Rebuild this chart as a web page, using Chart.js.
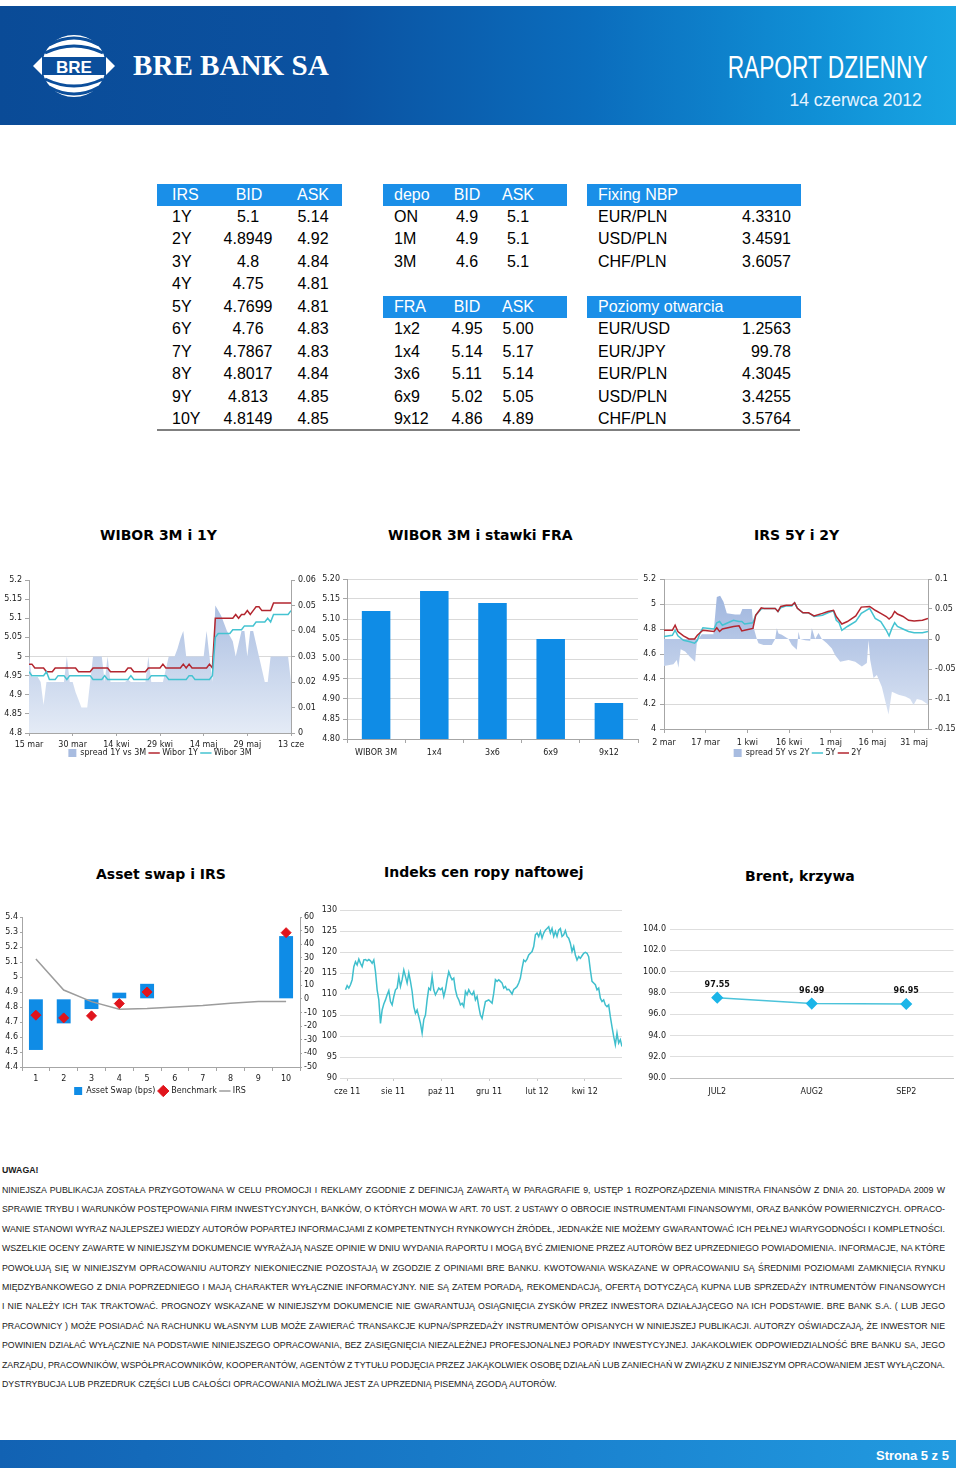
<!DOCTYPE html>
<html><head><meta charset="utf-8">
<script src="https://cdn.jsdelivr.net/npm/chart.js@4.4.1/dist/chart.umd.min.js"></script>
<style>
html,body{margin:0;padding:0;background:#fff;}
#page{position:relative;width:960px;height:1470px;overflow:hidden;font-family:'Liberation Sans',Arial,sans-serif;}
.t{position:absolute;white-space:nowrap;line-height:20px;height:20px;font-size:16px;color:#000;}
.hb{position:absolute;background:#1a8fe8;height:22px;}
.title{position:absolute;font-family:'DejaVu Sans',Verdana,sans-serif;font-weight:bold;font-size:14px;color:#000;white-space:nowrap;line-height:18px;}
canvas{position:absolute;}
.dl{position:absolute;left:2px;white-space:nowrap;font-family:'Liberation Sans',Arial,sans-serif;font-size:8px;color:#1a1a1a;line-height:12px;}
</style></head>
<body><div id="page">
<div style="position:absolute;left:0;top:6px;width:956px;height:119px;background:linear-gradient(to right,#0a4b97 0%,#0b52a1 35%,#0b6dbd 62%,#108fd5 85%,#18a5e3 100%);"></div>
<svg style="position:absolute;left:33px;top:33px" width="82" height="66" viewBox="0 0 82 66">
 <ellipse cx="41" cy="33" rx="32" ry="31" fill="#fff"/>
 <path d="M16 12 Q41 -2 66 12" stroke="#0b4e9b" stroke-width="3" fill="none"/>
 <path d="M12 20 Q41 6 70 20" stroke="#0b4e9b" stroke-width="3" fill="none"/>
 <path d="M12 46 Q41 60 70 46" stroke="#0b4e9b" stroke-width="3" fill="none"/>
 <path d="M16 54 Q41 68 66 54" stroke="#0b4e9b" stroke-width="3" fill="none"/>
 <rect x="9" y="24" width="64" height="18" fill="#0b4e9b"/>
 <polygon points="0,33 9,24 9,42" fill="#fff"/>
 <polygon points="82,33 73,24 73,42" fill="#fff"/>
 <text x="41" y="39.5" text-anchor="middle" font-family="Liberation Sans" font-weight="bold" font-size="17" fill="#fff">BRE</text>
</svg>
<div style="position:absolute;left:133px;top:47px;font-family:'Liberation Serif',serif;font-weight:bold;font-size:30px;color:#fff;white-space:nowrap;line-height:36px;transform:scaleX(0.97);transform-origin:left;">BRE BANK SA</div>
<div style="position:absolute;right:32px;top:50px;font-family:'Liberation Sans',sans-serif;font-size:32px;color:#fff;white-space:nowrap;line-height:34px;transform:scaleX(0.71);transform-origin:right;">RAPORT DZIENNY</div>
<div style="position:absolute;right:38px;top:89px;font-family:'Liberation Sans',sans-serif;font-size:19px;color:#e8f4ff;white-space:nowrap;line-height:22px;transform:scaleX(0.92);transform-origin:right;">14 czerwca 2012</div>

<div class="title" style="left:100px;top:526px;">WIBOR 3M i 1Y</div>
<div class="title" style="left:388px;top:526px;">WIBOR 3M i stawki FRA</div>
<div class="title" style="left:754px;top:526px;">IRS 5Y i 2Y</div>
<div class="title" style="left:96px;top:865px;">Asset swap i IRS</div>
<div class="title" style="left:384px;top:863px;">Indeks cen ropy naftowej</div>
<div class="title" style="left:745px;top:867px;">Brent, krzywa</div>

<div style="position:absolute;left:157px;top:429px;width:643px;height:2px;background:#7f7f7f;"></div>

<div style="position:absolute;left:0;top:1440px;width:956px;height:28px;background:linear-gradient(to right,#1262b3,#1a82cf 60%,#229be0);"></div>
<div style="position:absolute;left:876px;top:1448px;font-family:'Liberation Sans',sans-serif;font-weight:bold;font-size:13px;color:#fff;white-space:nowrap;line-height:16px;">Strona 5 z 5</div>
</div>
<script>
// ---------- table data ----------
const irsTenor=['1Y','2Y','3Y','4Y','5Y','6Y','7Y','8Y','9Y','10Y'];
const irsBid=['5.1','4.8949','4.8','4.75','4.7699','4.76','4.7867','4.8017','4.813','4.8149'];
const irsAsk=['5.14','4.92','4.84','4.81','4.81','4.83','4.83','4.84','4.85','4.85'];
const depoTenor=['ON','1M','3M'];
const depoBid=['4.9','4.9','4.6'];
const depoAsk=['5.1','5.1','5.1'];
const fraTenor=['1x2','1x4','3x6','6x9','9x12'];
const fraBid=['4.95','5.14','5.11','5.02','4.86'];
const fraAsk=['5.00','5.17','5.14','5.05','4.89'];
const fixPair=['EUR/PLN','USD/PLN','CHF/PLN'];
const fixVal=['4.3310','3.4591','3.6057'];
const openPair=['EUR/USD','EUR/JPY','EUR/PLN','USD/PLN','CHF/PLN'];
const openVal=['1.2563','99.78','4.3045','3.4255','3.5764'];

// ---------- chart data ----------
// WIBOR 3M i 1Y (daily, 15 mar .. 13 cze)
const w1Ticks=['15 mar','30 mar','14 kwi','29 kwi','14 maj','29 maj','13 cze'];
const w1TickDay=[0,15,30,45,60,75,90];
const w1Y=[4.98,4.98,4.97,4.97,4.97,4.97,4.96,4.96,4.96,4.97,4.97,4.97,4.97,4.97,4.97,4.97,4.97,4.96,4.96,4.96,4.96,4.96,4.97,4.97,4.97,4.97,4.97,4.97,4.96,4.96,4.96,4.96,4.96,4.96,4.97,4.97,4.96,4.96,4.96,4.96,4.96,4.97,4.97,4.97,4.97,4.97,4.98,4.97,4.97,4.97,4.97,4.97,4.97,4.98,4.97,4.98,4.97,4.97,4.97,4.97,4.97,4.97,4.98,4.97,5.10,5.10,5.10,5.10,5.10,5.10,5.10,5.11,5.10,5.11,5.11,5.12,5.11,5.12,5.13,5.13,5.12,5.12,5.12,5.12,5.14,5.14,5.14,5.14,5.14,5.14,5.14];
const w3M=[4.96,4.95,4.95,4.95,4.95,4.95,4.96,4.94,4.94,4.94,4.95,4.95,4.95,4.94,4.95,4.95,4.95,4.95,4.95,4.95,4.95,4.95,4.94,4.94,4.94,4.94,4.95,4.94,4.94,4.94,4.94,4.94,4.94,4.94,4.94,4.95,4.94,4.94,4.94,4.94,4.94,4.94,4.95,4.95,4.95,4.95,4.95,4.95,4.94,4.94,4.94,4.94,4.94,4.94,4.94,4.95,4.95,4.94,4.94,4.94,4.94,4.94,4.94,4.95,5.05,5.06,5.06,5.06,5.06,5.06,5.07,5.07,5.07,5.07,5.08,5.08,5.08,5.08,5.09,5.09,5.09,5.09,5.10,5.09,5.11,5.11,5.11,5.11,5.11,5.11,5.12];
const w1Spread=[0.03,0.022,0.022,0.022,0.02,0.011,0.02,0.02,0.02,0.02,0.02,0.02,0.02,0.03,0.02,0.02,0.016,0.013,0.01,0.01,0.01,0.02,0.03,0.03,0.03,0.03,0.02,0.03,0.02,0.02,0.02,0.02,0.02,0.02,0.021,0.02,0.02,0.02,0.02,0.02,0.02,0.03,0.02,0.02,0.02,0.02,0.02,0.025,0.03,0.03,0.03,0.033,0.037,0.04,0.03,0.03,0.03,0.03,0.03,0.03,0.03,0.04,0.03,0.02,0.05,0.048,0.046,0.043,0.04,0.038,0.036,0.03,0.035,0.04,0.04,0.03,0.04,0.04,0.035,0.03,0.025,0.02,0.02,0.03,0.03,0.03,0.03,0.03,0.03,0.03,0.02];

// WIBOR 3M i stawki FRA
const fraCats=['WIBOR 3M','1x4','3x6','6x9','9x12'];
const fraVals=[5.12,5.17,5.14,5.05,4.89];

// IRS 5Y i 2Y (days from 2 mar)
const irsTicks=['2 mar','17 mar','1 kwi','16 kwi','1 maj','16 maj','31 maj'];
const irsTickDay=[0,15,30,45,60,75,90];
const irsDay=[0,3,4,5,7,9,11,12,13,14,18,19,20,21,23,25,27,28,29,32,33,35,36,40,41,42,44,46,47,48,50,52,54,57,59,61,62,63,64,66,69,71,74,75,76,78,80,81,82,83,84,86,88,90,93,95];
const irs5Y=[4.74,4.75,4.79,4.745,4.71,4.70,4.686,4.71,4.77,4.81,4.80,4.85,4.86,4.83,4.85,4.87,4.86,4.86,4.84,4.85,4.91,4.96,4.965,4.965,4.94,4.97,4.985,4.985,5.01,4.965,4.93,4.93,4.90,4.91,4.93,4.945,4.87,4.85,4.79,4.82,4.86,4.925,4.965,4.925,4.885,4.86,4.79,4.745,4.805,4.85,4.82,4.80,4.78,4.77,4.77,4.78];
const irs2Y=[4.79,4.79,4.83,4.78,4.745,4.72,4.72,4.75,4.77,4.79,4.78,4.81,4.78,4.80,4.81,4.82,4.825,4.785,4.79,4.805,4.91,4.97,4.965,4.965,4.94,4.98,4.99,4.99,5.01,4.965,4.93,4.93,4.905,4.925,4.94,4.95,4.90,4.87,4.84,4.86,4.905,4.975,4.98,4.965,4.95,4.925,4.90,4.88,4.90,4.94,4.92,4.90,4.87,4.865,4.87,4.885];
const sprDay=[0,3.4,4.6,5.2,6,7.6,9.4,11.2,11.8,12.4,13.6,17.8,19,20.2,21.4,22.6,25.6,27.4,28.2,31.6,32.2,33.4,34,35.8,38.8,40,40.6,41.2,42.4,44.8,46,47.8,48.4,49,50.8,52.6,53.2,54.4,55.6,56.8,58.6,60.4,61.6,63.4,66.4,68.8,71.2,73,73.6,74.2,75.4,76.6,78.4,80.8,82,84.4,86.8,88.6,89.8,91,92.8,94.6,95.2];
const sprVal=[-0.045,-0.042,-0.035,-0.048,-0.017,-0.021,-0.03,-0.038,-0.007,0,0.008,0.008,0.07,0.072,0.062,0.043,0.041,0.041,0.05,0.05,0.02,0,-0.007,-0.01,-0.01,0,0.018,0.009,0.007,0,-0.01,-0.018,0.012,0,-0.002,-0.003,0.018,0,0.01,0,-0.007,-0.016,-0.027,-0.038,-0.035,-0.038,-0.046,-0.04,-0.002,-0.035,-0.065,-0.06,-0.08,-0.126,-0.088,-0.093,-0.096,-0.1,-0.11,-0.1,-0.102,-0.108,-0.11];

// Asset swap i IRS
const asCats=['1','2','3','4','5','6','7','8','9','10'];
const asSwap=[-37.5,-18,-7.5,4.5,11,null,null,null,null,46];
const asBench=[-12,-14,-12.5,-3.5,5,null,null,null,null,48.5];
const asIRS=[5.12,4.913,4.836,4.785,4.79,4.80,4.81,4.825,4.836,4.836];

// Indeks cen ropy naftowej
const oilTicks=['cze 11','sie 11','paź 11','gru 11','lut 12','kwi 12'];
const oilTickPos=[1,28.6,57.6,86.2,115,143.6];
const oil=[111,112,111.4,112.2,113.4,116.5,117.7,116.9,118.3,117.3,116.5,118.1,118.2,117.9,118.2,117.9,117.3,118.1,115.3,111,108.6,103,106.2,107.6,108.6,109.8,110.8,108.2,107.4,109.4,111,111.4,114.2,111.8,113.4,115.7,114.2,112.6,115,113,110.6,107,105.4,106.2,104.6,103,100.7,103.9,105,108.6,111.4,111,114.2,111,109.8,110.6,111.4,111,111.4,109.4,111,113.4,115.3,114.2,113.4,113.8,111,109.4,108.6,107.4,107.8,107,110.6,109.8,111,110.2,109.8,110.6,108.6,109.4,107,105,104.2,106.2,108.2,108.4,108.6,108.2,107.8,110.2,113.4,113,113.4,113,112.6,111.4,111.8,111,111.1,110.6,110,111.1,111.4,111.8,112.6,113.8,116.1,118.1,117.7,118.3,119.3,119.7,120.1,121.3,124.1,124.5,123.7,124.9,123.3,124.5,125.2,125.6,126,124.5,125.6,123.7,124.9,123.7,125.2,125.6,123.7,124.1,125.1,123.7,123.3,122.1,120.1,121.3,119.3,118.1,118.9,118.5,119.1,119.7,119.9,119.7,118.9,115.7,113,112.6,112.2,111,111.4,109,108.2,108.6,107.4,107,107.4,104.6,102.2,99.9,97.9,100.7,98.3,99.1,97.5];

// Brent, krzywa
const brentCats=['JUL2','AUG2','SEP2'];
const brentVals=[97.55,96.99,96.95];

// disclaimer
const discLines=[
'NINIEJSZA PUBLIKACJA ZOSTAŁA PRZYGOTOWANA W CELU PROMOCJI I REKLAMY ZGODNIE Z DEFINICJĄ ZAWARTĄ W PARAGRAFIE 9, USTĘP 1 ROZPORZĄDZENIA MINISTRA FINANSÓW Z DNIA 20. LISTOPADA 2009 W',
'SPRAWIE TRYBU I WARUNKÓW POSTĘPOWANIA FIRM INWESTYCYJNYCH, BANKÓW, O KTÓRYCH MOWA W ART. 70 UST. 2 USTAWY O OBROCIE INSTRUMENTAMI FINANSOWYMI, ORAZ BANKÓW POWIERNICZYCH. OPRACO-',
'WANIE STANOWI WYRAZ NAJLEPSZEJ WIEDZY AUTORÓW POPARTEJ INFORMACJAMI Z KOMPETENTNYCH RYNKOWYCH ŹRÓDEŁ, JEDNAKŻE NIE MOŻEMY GWARANTOWAĆ ICH PEŁNEJ WIARYGODNOŚCI I KOMPLETNOŚCI.',
'WSZELKIE OCENY ZAWARTE W NINIEJSZYM DOKUMENCIE WYRAŻAJĄ NASZE OPINIE W DNIU WYDANIA RAPORTU I MOGĄ BYĆ ZMIENIONE PRZEZ AUTORÓW BEZ UPRZEDNIEGO POWIADOMIENIA. INFORMACJE, NA KTÓRE',
'POWOŁUJĄ SIĘ W NINIEJSZYM OPRACOWANIU AUTORZY NIEKONIECZNIE POZOSTAJĄ W ZGODZIE Z OPINIAMI BRE BANKU. KWOTOWANIA WSKAZANE W OPRACOWANIU SĄ ŚREDNIMI POZIOMAMI ZAMKNIĘCIA RYNKU',
'MIĘDZYBANKOWEGO Z DNIA POPRZEDNIEGO I MAJĄ CHARAKTER WYŁĄCZNIE INFORMACYJNY. NIE SĄ ZATEM PORADĄ, REKOMENDACJĄ, OFERTĄ DOTYCZĄCĄ KUPNA LUB SPRZEDAŻY INTRUMENTÓW FINANSOWYCH',
'I NIE NALEŻY ICH TAK TRAKTOWAĆ. PROGNOZY WSKAZANE W NINIEJSZYM DOKUMENCIE NIE GWARANTUJĄ OSIĄGNIĘCIA ZYSKÓW PRZEZ INWESTORA DZIAŁAJĄCEGO NA ICH PODSTAWIE. BRE BANK S.A. ( LUB JEGO',
'PRACOWNICY ) MOŻE POSIADAĆ NA RACHUNKU WŁASNYM LUB MOŻE ZAWIERAĆ TRANSAKCJE KUPNA/SPRZEDAŻY INSTRUMENTÓW OPISANYCH W NINIEJSZEJ PUBLIKACJI. AUTORZY OŚWIADCZAJĄ, ŻE INWESTOR NIE',
'POWINIEN DZIAŁAĆ WYŁĄCZNIE NA PODSTAWIE NINIEJSZEGO OPRACOWANIA, BEZ ZASIĘGNIĘCIA NIEZALEŻNEJ PROFESJONALNEJ PORADY INWESTYCYJNEJ. JAKAKOLWIEK ODPOWIEDZIALNOŚĆ BRE BANKU SA, JEGO',
'ZARZĄDU, PRACOWNIKÓW, WSPÓŁPRACOWNIKÓW, KOOPERANTÓW, AGENTÓW Z TYTUŁU PODJĘCIA PRZEZ JAKĄKOLWIEK OSOBĘ DZIAŁAŃ LUB ZANIECHAŃ W ZWIĄZKU Z NINIEJSZYM OPRACOWANIEM JEST WYŁĄCZONA.',
'DYSTRYBUCJA LUB PRZEDRUK CZĘŚCI LUB CAŁOŚCI OPRACOWANIA MOŻLIWA JEST ZA UPRZEDNIĄ PISEMNĄ ZGODĄ AUTORÓW.'
];

// ---------- page build ----------
const page=document.getElementById('page');
function txt(x,y,s,align,color){
  const d=document.createElement('div');d.className='t';d.textContent=s;
  d.style.top=(y-10)+'px';d.style.left=x+'px';
  if(align==='c')d.style.transform='translateX(-50%)';
  if(align==='r')d.style.transform='translateX(-100%)';
  if(color)d.style.color=color;
  page.appendChild(d);
}
function bar(x1,x2,yc){const d=document.createElement('div');d.className='hb';d.style.left=x1+'px';d.style.width=(x2-x1)+'px';d.style.top=(yc-11)+'px';page.appendChild(d);}
const rowY=i=>217+i*22.45;
const hY=195;
bar(157,342,hY);txt(172,hY,'IRS','l','#fff');txt(249,hY,'BID','c','#fff');txt(313,hY,'ASK','c','#fff');
irsTenor.forEach((s,i)=>{txt(172,rowY(i),s);txt(248,rowY(i),irsBid[i],'c');txt(313,rowY(i),irsAsk[i],'c');});
bar(383,567,hY);txt(394,hY,'depo','l','#fff');txt(467,hY,'BID','c','#fff');txt(518,hY,'ASK','c','#fff');
depoTenor.forEach((s,i)=>{txt(394,rowY(i),s);txt(467,rowY(i),depoBid[i],'c');txt(518,rowY(i),depoAsk[i],'c');});
bar(383,567,rowY(4));txt(394,rowY(4),'FRA','l','#fff');txt(467,rowY(4),'BID','c','#fff');txt(518,rowY(4),'ASK','c','#fff');
fraTenor.forEach((s,i)=>{txt(394,rowY(i+5),s);txt(467,rowY(i+5),fraBid[i],'c');txt(518,rowY(i+5),fraAsk[i],'c');});
bar(587,801,hY);txt(598,hY,'Fixing NBP','l','#fff');
fixPair.forEach((s,i)=>{txt(598,rowY(i),s);txt(791,rowY(i),fixVal[i],'r');});
bar(587,801,rowY(4));txt(598,rowY(4),'Poziomy otwarcia','l','#fff');
openPair.forEach((s,i)=>{txt(598,rowY(i+5),s);txt(791,rowY(i+5),openVal[i],'r');});

// disclaimer
(function(){
  const u=document.createElement('div');u.className='dl';u.style.top='1164px';u.style.fontWeight='bold';u.textContent='UWAGA!';page.appendChild(u);
  const els=discLines.map((s,i)=>{const d=document.createElement('div');d.className='dl';d.style.top=(1184+i*19.4)+'px';d.textContent=s;page.appendChild(d);return d;});
  const last=els[els.length-1];
  const fs=8*555/last.getBoundingClientRect().width;
  els.forEach(e=>e.style.fontSize=fs+'px');u.style.fontSize=fs+'px';
  els.forEach((e,i)=>{ if(i===els.length-1)return; const w=e.getBoundingClientRect().width; const n=(discLines[i].match(/ /g)||[]).length; e.style.wordSpacing=((943-w)/n)+'px';});
})();

// ---------- charts ----------
Chart.defaults.font.family="'DejaVu Sans', Verdana, sans-serif";
Chart.defaults.font.size=8;
Chart.defaults.color='#1a1a1a';
Chart.defaults.animation=false;
Chart.defaults.responsive=false;
Chart.defaults.devicePixelRatio=1;
Chart.defaults.events=[];
Chart.defaults.plugins.tooltip.enabled=false;
Chart.defaults.plugins.legend.display=false;
const AX='#a6a6a6', GR='#d9d9d9', RED='#b3262f', CYAN='#44c3d1', BLUE='#0f8ce6';
function mk(l,t,w,h){const c=document.createElement('canvas');c.width=w;c.height=h;c.style.left=l+'px';c.style.top=t+'px';c.style.width=w+'px';c.style.height=h+'px';page.appendChild(c);return c;}
const W=w=>s=>{s.width=w;}; const H=h=>s=>{s.height=h;};
function areaFill(top,bot){return ctx=>{const ch=ctx.chart,a=ch.chartArea;if(!a||ctx.type!=='dataset')return '#a8bce0';const g=ch.ctx.createLinearGradient(0,a.top,0,a.bottom);g.addColorStop(0,top);g.addColorStop(1,bot);return g;};}
const fmt=v=>String(+(+v).toFixed(2));
const legendOpts={display:true,position:'bottom',maxHeight:20,labels:{usePointStyle:true,font:{size:8},padding:4,color:'#1a1a1a',sort:(a,b)=>a.datasetIndex-b.datasetIndex}};
const legShift=off=>({id:'legShift',afterLayout(ch){const l=ch.legend;if(!l)return;const h=l.bottom-l.top;const t=ch.chartArea.bottom+off;l.top=t;l.bottom=t+h;}});
const setTicks=arr=>s=>{s.ticks=arr.map(v=>({value:v}));};

// 1: WIBOR 3M i 1Y
new Chart(mk(0,568,320,203),{type:'line',
 data:{datasets:[
  {label:'spread 1Y vs 3M',data:w1Spread.map((v,i)=>({x:i,y:v})),yAxisID:'y1',fill:'start',backgroundColor:areaFill('#a1b7de','#e4ebf6'),borderWidth:0,borderColor:'rgba(0,0,0,0)',pointRadius:0,pointStyle:'rect',order:2},
  {label:'Wibor 1Y',data:w1Y.map((v,i)=>({x:i,y:v})),yAxisID:'y',borderColor:RED,backgroundColor:RED,borderWidth:1.5,pointRadius:0,pointStyle:'line',fill:false,order:1},
  {label:'Wibor 3M',data:w3M.map((v,i)=>({x:i,y:v})),yAxisID:'y',borderColor:CYAN,backgroundColor:CYAN,borderWidth:1.5,pointRadius:0,pointStyle:'line',fill:false,order:0}
 ]},
 options:{layout:{padding:{top:12,left:0,right:0,bottom:0}},
  scales:{
   x:{type:'linear',min:0,max:90,afterBuildTicks:setTicks(w1TickDay),ticks:{callback:(v,i)=>w1Ticks[i],maxRotation:0,autoSkip:false,padding:4},grid:{drawOnChartArea:false,tickLength:3,color:AX},border:{color:AX},afterFit:H(18)},
   y:{position:'left',min:4.8,max:5.2,ticks:{stepSize:0.05,callback:fmt,padding:3},grid:{color:c=>Math.abs(c.tick.value-5)<1e-6?GR:'rgba(0,0,0,0)',tickColor:AX,tickLength:4},border:{color:AX},afterFit:W(29)},
   y1:{position:'right',min:0,max:0.06,ticks:{stepSize:0.01,callback:fmt,padding:3},grid:{drawOnChartArea:false,tickLength:4,color:AX},border:{color:AX},afterFit:W(29)}
  },
  plugins:{legend:legendOpts}},
 plugins:[legShift(12)]
});

// 2: WIBOR 3M i stawki FRA
new Chart(mk(315,568,325,195),{type:'bar',
 data:{labels:fraCats,datasets:[{data:fraVals,backgroundColor:BLUE,barPercentage:0.49,categoryPercentage:1}]},
 options:{layout:{padding:{top:11,left:0,right:2,bottom:0}},
  scales:{
   x:{ticks:{padding:5,maxRotation:0,autoSkip:false},grid:{drawOnChartArea:false,tickLength:4,color:AX},border:{color:AX},afterFit:H(24)},
   y:{min:4.8,max:5.2,ticks:{stepSize:0.05,callback:v=>(+v).toFixed(2),padding:3},grid:{color:GR,tickColor:AX,tickLength:4},border:{color:AX},afterFit:W(32)}
  }}
});

// 3: IRS 5Y i 2Y
new Chart(mk(635,568,325,199),{type:'line',
 data:{datasets:[
  {label:'spread 5Y vs 2Y',data:sprVal.map((v,i)=>({x:sprDay[i],y:v})),yAxisID:'y1',fill:{value:0},backgroundColor:areaFill('#98b0dc','#dfe7f4'),borderWidth:0,borderColor:'rgba(0,0,0,0)',pointRadius:0,pointStyle:'rect',order:2},
  {label:'5Y',data:irs5Y.map((v,i)=>({x:irsDay[i],y:v})),yAxisID:'y',borderColor:CYAN,backgroundColor:CYAN,borderWidth:1.5,pointRadius:0,pointStyle:'line',fill:false,order:1},
  {label:'2Y',data:irs2Y.map((v,i)=>({x:irsDay[i],y:v})),yAxisID:'y',borderColor:RED,backgroundColor:RED,borderWidth:1.5,pointRadius:0,pointStyle:'line',fill:false,order:0}
 ]},
 options:{layout:{padding:{top:11,left:0,right:0,bottom:0}},
  scales:{
   x:{type:'linear',min:0,max:95,afterBuildTicks:setTicks(irsTickDay),ticks:{callback:(v,i)=>irsTicks[i],maxRotation:0,autoSkip:false,padding:5},grid:{drawOnChartArea:false,tickLength:4,color:AX},border:{color:AX},afterFit:H(18)},
   y:{position:'left',min:4,max:5.2,ticks:{stepSize:0.2,callback:fmt,padding:4},grid:{color:GR,tickColor:AX,tickLength:4},border:{color:AX},afterFit:W(29)},
   y1:{position:'right',min:-0.15,max:0.1,ticks:{stepSize:0.05,callback:fmt,padding:3},grid:{drawOnChartArea:false,tickLength:4,color:AX},border:{color:AX},afterFit:W(32)}
  },
  plugins:{legend:legendOpts}},
 plugins:[legShift(16)]
});

// 4: Asset swap i IRS
new Chart(mk(0,905,320,200),{type:'bar',
 data:{labels:asCats,datasets:[
  {type:'bar',label:'Asset Swap (bps)',data:asSwap,yAxisID:'y1',backgroundColor:BLUE,barPercentage:0.5,categoryPercentage:1,pointStyle:'rect',order:2},
  {type:'line',label:'Benchmark',data:asBench,yAxisID:'y1',showLine:false,pointStyle:'rectRot',pointRadius:5,backgroundColor:'#e0141c',borderColor:'#e0141c',order:0},
  {type:'line',label:'IRS',data:asIRS,yAxisID:'y',borderColor:'#9c9c9c',backgroundColor:'#9c9c9c',borderWidth:1.5,pointRadius:0,pointStyle:'line',order:1}
 ]},
 options:{layout:{padding:{top:12,left:0,right:0,bottom:0}},
  scales:{
   x:{ticks:{padding:3,maxRotation:0,autoSkip:false},grid:{drawOnChartArea:false,tickLength:4,color:AX},border:{color:AX},afterFit:H(18)},
   y:{position:'left',min:4.4,max:5.4,ticks:{stepSize:0.1,callback:fmt,padding:2},grid:{drawOnChartArea:false,tickLength:2,color:AX},border:{color:AX},afterFit:W(22)},
   y1:{position:'right',min:-50,max:60,ticks:{stepSize:10,padding:2},grid:{drawOnChartArea:false,tickLength:2,color:AX},border:{color:AX},afterFit:W(20)}
  },
  plugins:{legend:legendOpts}},
 plugins:[legShift(16)]
});

// 5: Indeks cen ropy naftowej
new Chart(mk(315,900,320,200),{type:'line',
 data:{datasets:[{data:oil.map((v,i)=>({x:i,y:v})),borderColor:'#3fbfcd',borderWidth:1.5,pointRadius:0,fill:false}]},
 options:{layout:{padding:{top:10,left:0,right:13,bottom:0}},
  scales:{
   x:{type:'linear',min:-1.5,max:166,afterBuildTicks:setTicks(oilTickPos),ticks:{callback:(v,i)=>oilTicks[i],maxRotation:0,autoSkip:false,padding:6},grid:{drawOnChartArea:false,tickLength:3,color:'#c8c8c8'},border:{display:false},afterFit:H(22)},
   y:{min:90,max:130,ticks:{stepSize:5,padding:3},grid:{color:'#dcdcdc',tickLength:3},border:{display:false},afterFit:W(28)}
  }}
});

// 6: Brent, krzywa
const labelPlugin={id:'vals',afterDatasetsDraw(ch){const ctx=ch.ctx;const meta=ch.getDatasetMeta(0);ctx.save();ctx.font="bold 8px 'DejaVu Sans', Verdana, sans-serif";ctx.fillStyle='#111';ctx.textAlign='center';ctx.textBaseline='middle';meta.data.forEach((p,i)=>{ctx.fillText(brentVals[i].toFixed(2),p.x,p.y-13);});ctx.restore();}};
new Chart(mk(635,905,325,195),{type:'line',
 data:{labels:brentCats,datasets:[{data:brentVals,borderColor:'#4cc3da',borderWidth:1.5,pointStyle:'rectRot',pointRadius:5,pointBackgroundColor:'#1bb5e8',pointBorderColor:'#1bb5e8',fill:false}]},
 options:{layout:{padding:{top:24,left:0,right:2,bottom:0}},
  scales:{
   x:{offset:true,ticks:{padding:9,maxRotation:0},grid:{drawOnChartArea:false,tickLength:0,color:AX},border:{color:'#bfbfbf'},afterFit:H(22)},
   y:{min:90,max:104,ticks:{stepSize:2,callback:v=>(+v).toFixed(1),padding:4},grid:{color:'#dedede',tickLength:0},border:{display:false},afterFit:W(35)}
  }},
 plugins:[labelPlugin]
});
</script>
</body></html>
